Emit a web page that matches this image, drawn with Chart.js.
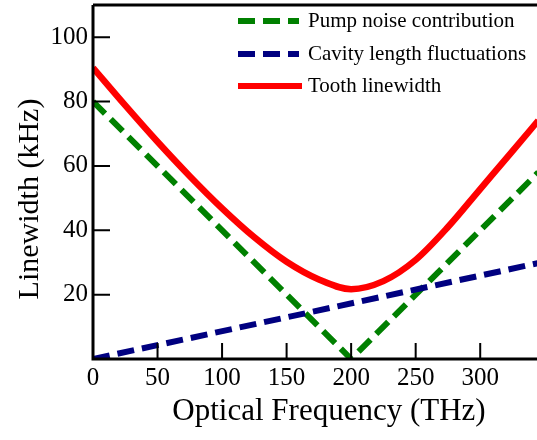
<!DOCTYPE html>
<html>
<head>
<meta charset="utf-8">
<script src="https://cdn.jsdelivr.net/npm/chart.js@4.4.1/dist/chart.umd.min.js"></script>
<style>
  html, body { margin: 0; padding: 0; background: #fff; }
  #wrap { width: 537px; height: 440px; }
</style>
</head>
<body>
<div id="wrap"><canvas id="lw" width="537" height="440"></canvas></div>
<script>
// values
const toothFreq = [0, 25, 50, 75, 100, 125, 150, 175, 200, 225, 250, 275, 300, 325, 345];
const toothWidth = [90.5, 78.8, 67.5, 56.8, 46.8, 37.8, 30.2, 24.7, 21.7, 24.2, 30.8, 41, 52.8, 64.6, 74.1];

const pumpFreq = [0, 200, 345];
const pumpWidth = [80, 0, 58];

const cavityFreq = [0, 345];
const cavityWidth = [0, 29.8];

const xTicks = [0, 50, 100, 150, 200, 250, 300];
const yTicks = [20, 40, 60, 80, 100];

const seriesNames = ["Pump noise contribution", "Cavity length fluctuations", "Tooth linewidth"];
const seriesColors = ["#008000", "#000080", "#ff0000"];

const serif = "'Liberation Serif', 'DejaVu Serif', serif";

function pts(xs, ys) {
  return xs.map((x, i) => ({ x: x, y: ys[i] }));
}

// axes, inward ticks, frame, legend and titles
const framePlugin = {
  id: "frame",
  afterDraw(chart) {
    const c = chart.ctx;
    const a = chart.chartArea;
    const xs = chart.scales.x, ys = chart.scales.y;
    c.save();
    c.strokeStyle = "#000";
    c.lineWidth = 3;
    c.beginPath();
    c.moveTo(a.left, a.top);
    c.lineTo(a.left, a.bottom);
    c.lineTo(a.right, a.bottom);
    c.moveTo(a.left, a.top);
    c.lineTo(a.right, a.top);
    c.stroke();

    c.lineWidth = 2;
    c.beginPath();
    xTicks.forEach(v => {
      const px = xs.getPixelForValue(v);
      c.moveTo(px, a.bottom);
      c.lineTo(px, a.bottom - 16);
    });
    yTicks.forEach(v => {
      const py = ys.getPixelForValue(v);
      c.moveTo(a.left, py);
      c.lineTo(a.left + 17, py);
    });
    c.stroke();

    // legend
    const rows = [21, 54, 86];
    c.font = "21px " + serif;
    c.fillStyle = "#000";
    c.textBaseline = "middle";
    rows.forEach((y, i) => {
      c.strokeStyle = seriesColors[i];
      c.lineWidth = 6;
      c.setLineDash(i < 2 ? [17, 8] : []);
      c.beginPath();
      c.moveTo(238, y);
      c.lineTo(i < 2 ? 299 : 302, y);
      c.stroke();
      c.setLineDash([]);
      c.fillText(seriesNames[i], 308, y);
    });

    // axis titles
    c.fillStyle = "#000";
    c.textAlign = "center";
    c.textBaseline = "middle";
    c.font = "31px " + serif;
    c.fillText("Optical Frequency (THz)", 329, 412);
    c.font = "30px " + serif;
    c.translate(30, 199);
    c.rotate(-Math.PI / 2);
    c.fillText("Linewidth (kHz)", 0, 0);
    c.restore();
  }
};

new Chart(document.getElementById("lw"), {
  type: "line",
  data: {
    datasets: [
      {
        label: seriesNames[1],
        data: pts(cavityFreq, cavityWidth),
        borderColor: seriesColors[1],
        borderWidth: 6,
        borderDash: [17, 8],
        pointRadius: 0,
        fill: false
      },
      {
        label: seriesNames[0],
        data: pts(pumpFreq, pumpWidth),
        borderColor: seriesColors[0],
        borderWidth: 6,
        borderDash: [17, 8],
        pointRadius: 0,
        fill: false
      },
      {
        label: seriesNames[2],
        data: pts(toothFreq, toothWidth),
        borderColor: seriesColors[2],
        borderWidth: 6.5,
        cubicInterpolationMode: "monotone",
        pointRadius: 0,
        fill: false
      }
    ]
  },
  options: {
    responsive: false,
    animation: false,
    devicePixelRatio: 1,
    layout: { padding: { top: 5, right: 0, left: 0, bottom: 0 } },
    plugins: {
      legend: { display: false },
      tooltip: { enabled: false }
    },
    scales: {
      x: {
        type: "linear",
        min: 0,
        max: 344,
        grid: { display: false, drawTicks: false },
        border: { display: false },
        afterBuildTicks: s => { s.ticks = xTicks.map(v => ({ value: v })); },
        afterFit: s => { s.height = 81; s.paddingLeft = 0; s.paddingRight = 0; },
        ticks: {
          padding: 4,
          maxRotation: 0,
          color: "#000",
          font: { family: serif, size: 25 }
        }
      },
      y: {
        min: 0,
        max: 110,
        grid: { display: false, drawTicks: false },
        border: { display: false },
        afterBuildTicks: s => { s.ticks = yTicks.map(v => ({ value: v })); },
        afterFit: s => { s.width = 93; s.paddingTop = 0; s.paddingBottom = 0; },
        ticks: {
          padding: 5,
          color: "#000",
          font: { family: serif, size: 25 }
        }
      }
    }
  },
  plugins: [framePlugin]
});
</script>
</body>
</html>
